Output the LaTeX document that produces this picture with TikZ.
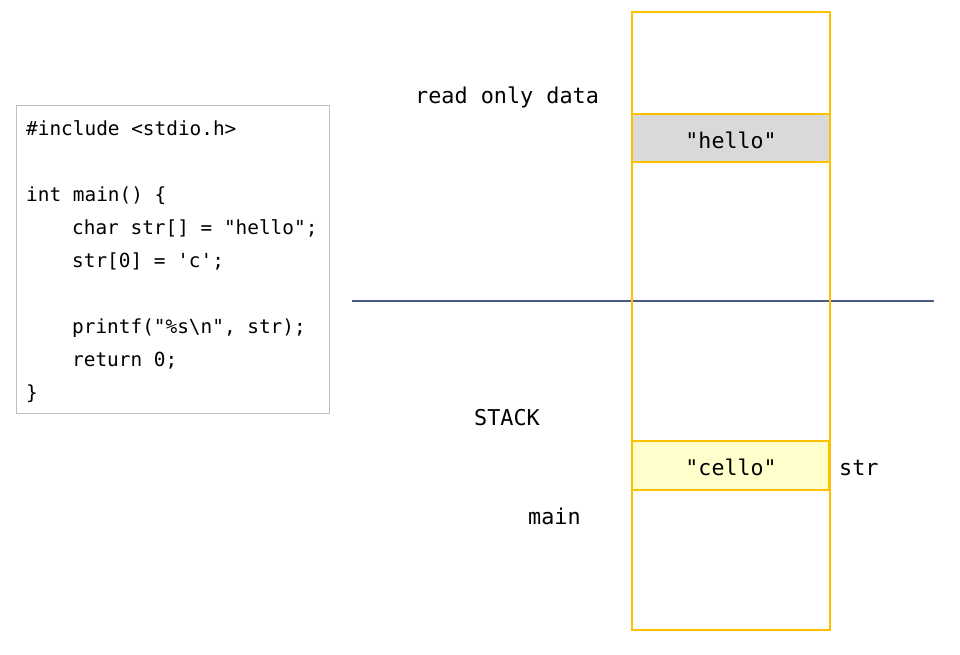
\documentclass[tikz,border=0pt]{standalone}
\usepackage{fontspec}
\setmonofont{DejaVu Sans Mono}
\definecolor{colorange}{HTML}{FFC000}
\definecolor{hellofill}{HTML}{D9D9D9}
\definecolor{cellofill}{HTML}{FFFFCC}
\definecolor{sepline}{HTML}{4A5A80}
\definecolor{codeborder}{HTML}{BFBFBF}
\begin{document}
\begin{tikzpicture}[x=1pt,y=-1pt,
  codeline/.style={anchor=mid west,inner sep=0pt,font=\ttfamily\fontsize{19.4}{22}\selectfont},
  lbl/.style={anchor=mid west,inner sep=0pt,font=\ttfamily\fontsize{21.8}{24}\selectfont},
  cell/.style={draw=colorange,line width=1.8pt},
  celltext/.style={inner sep=0pt,font=\ttfamily\fontsize{21.6}{24}\selectfont}]
\useasboundingbox (0,0) rectangle (960,654);
% code box
\draw[codeborder,line width=1pt] (16,105) rectangle (329,413);
\node[codeline] (c1) at (26,133) {\#include <stdio.h>};
\node[codeline] (c2) at (26,199) {int main() \{};
\node[codeline] (c3) at (72,232) {char str[] = "hello";};
\node[codeline] (c4) at (72,265) {str[0] = 'c';};
\node[codeline] (c5) at (72,331) {printf("\%s\textbackslash n", str);};
\node[codeline] (c6) at (72,364) {return 0;};
\node[codeline] (c7) at (26,397) {\}};
% separator
\draw[sepline,line width=1.3pt] (352,301) -- (934,301);
% memory column
\draw[cell,fill=hellofill] (632,114) rectangle (830,162);
\draw[cell,fill=cellofill] (632,441) rectangle (829,490);
\draw[cell] (632,12) rectangle (830,630);
\node[celltext] (hello) at (731,140) {"hello"};
\node[celltext] (cello) at (731,467) {"cello"};
% labels
\node[lbl] (rod) at (415,101) {read only data};
\node[lbl] (stack) at (474,423) {STACK};
\node[lbl] (main) at (528,522) {main};
\node[lbl] (str) at (839,473) {str};
\end{tikzpicture}
\end{document}
